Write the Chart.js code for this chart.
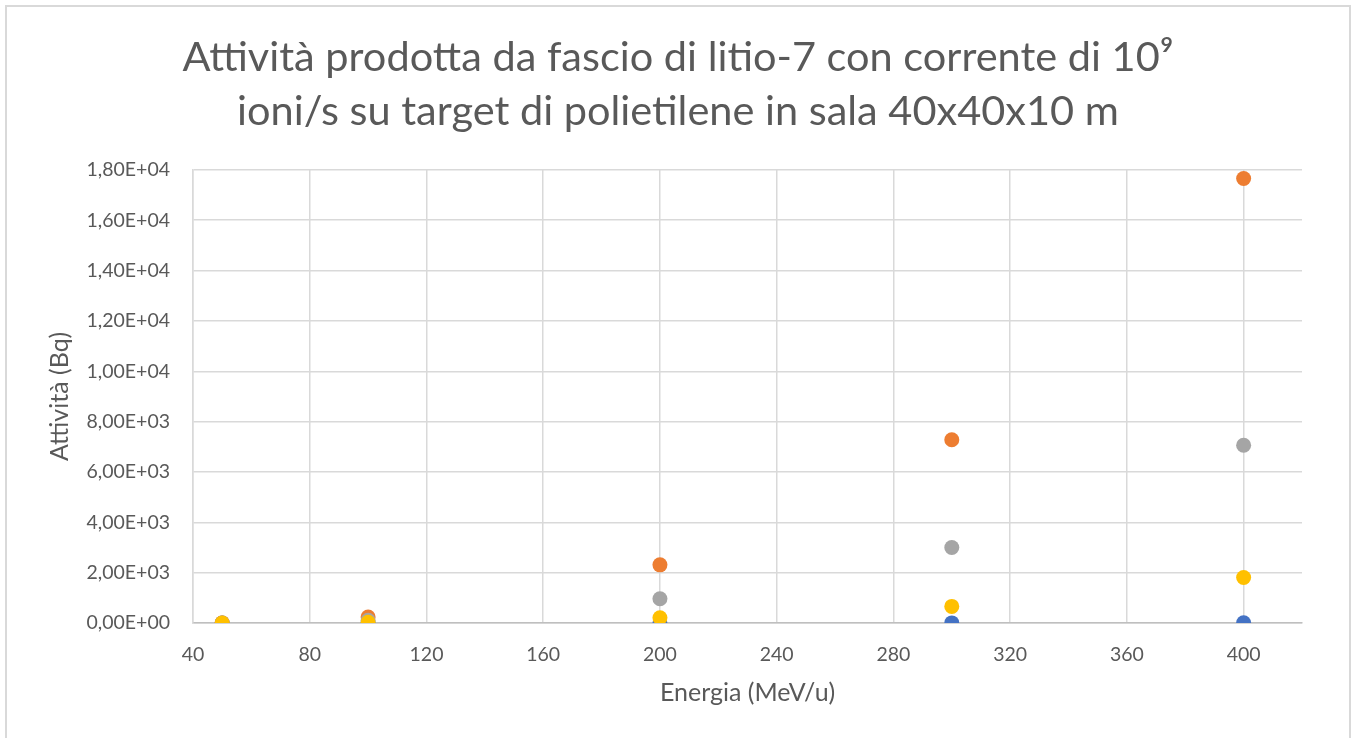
<!DOCTYPE html>
<html>
<head>
<meta charset="utf-8">
<title>Attività litio-7</title>
<script src="https://cdn.jsdelivr.net/npm/chart.js@4"></script>
<style>
  html, body { margin: 0; padding: 0; background: #fff; }
  #wrap { position: relative; width: 1356px; height: 738px; overflow: hidden; }
  #frame {
    position: absolute; left: 5px; top: 5px; width: 1342px; height: 760px;
    border: 2px solid #d9d9d9; pointer-events: none;
  }
  canvas { position: absolute; left: 0; top: 0; }
</style>
</head>
<body>
<div id="wrap">
  <canvas id="chart" width="1356" height="738"></canvas>
  <div id="frame"></div>
</div>
<script>
// Energia del fascio (MeV/u)
const energia = [50, 100, 200, 300, 400];

// Attività (Bq) per ciascuna serie
const serie1 = [0, 1, 2, 3, 5];
const serie2 = [3, 240, 2310, 7280, 17660];
const serie3 = [1, 110, 965, 3000, 7060];
const serie4 = [0, 25, 210, 660, 1810];

const colori = ['#4472C4', '#ED7D31', '#A5A5A5', '#FFC000'];

const font = "Lato, 'Open Sans', sans-serif";
const grigio = '#595959';

function punti(valori) {
    return valori.map((v, i) => ({ x: energia[i], y: v }));
}

const tutte = [serie1, serie2, serie3, serie4];
const datasets = tutte.map((valori, i) => ({
    label: 'Serie' + (i + 1),
    data: punti(valori),
    backgroundColor: colori[i],
    borderColor: colori[i],
    borderWidth: 0,
    pointRadius: 7.5,
    pointHoverRadius: 7.5,
    order: tutte.length - i
}));

const ctx = document.getElementById('chart').getContext('2d');

// padding simmetrico così il titolo resta centrato sulla pagina
new Chart(ctx, {
    type: 'scatter',
    data: { datasets: datasets },
    options: {
        responsive: false,
        animation: false,
        layout: { padding: { left: 54, right: 54, top: 0, bottom: 0 } },
        plugins: {
            legend: { display: false },
            tooltip: { enabled: false },
            title: {
                display: true,
                text: ['Attività prodotta da fascio di litio-7 con corrente di 10⁹',
                       'ioni/s su target di polietilene in sala 40x40x10 m'],
                color: grigio,
                font: { family: font, size: 41.5, weight: 'normal', lineHeight: 1.3 },
                padding: { top: 31, bottom: 31 }
            }
        },
        scales: {
            x: {
                type: 'linear',
                min: 40,
                max: 420,
                afterBuildTicks: s => { s.ticks = s.ticks.filter(t => t.value <= 400); },
                afterFit: s => { s.height = 115; },
                ticks: {
                    stepSize: 40,
                    color: grigio,
                    padding: 20,
                    font: { family: font, size: 19.5 }
                },
                grid: { color: '#d9d9d9', lineWidth: 1.5, drawTicks: false },
                border: { display: true, color: '#bfbfbf', width: 1.5 },
                title: {
                    display: true,
                    text: 'Energia (MeV/u)',
                    color: grigio,
                    font: { family: font, size: 25 },
                    padding: { top: 0, bottom: 30 }
                }
            },
            y: {
                min: 0,
                max: 18000,
                afterFit: s => { s.width = 139; },
                ticks: {
                    stepSize: 2000,
                    color: grigio,
                    padding: 23,
                    font: { family: font, size: 19.5 },
                    callback: v => v.toExponential(2).replace('.', ',').replace(/e([+-])(\d)$/, 'E$10$2').replace('e', 'E')
                },
                grid: { color: '#d9d9d9', lineWidth: 1.5, drawTicks: false },
                border: { display: true, color: '#d9d9d9', width: 1.5 },
                title: {
                    display: true,
                    text: 'Attività (Bq)',
                    color: grigio,
                    font: { family: font, size: 25 },
                    padding: { top: -9, bottom: 0 }
                }
            }
        }
    }
});
</script>
</body>
</html>
